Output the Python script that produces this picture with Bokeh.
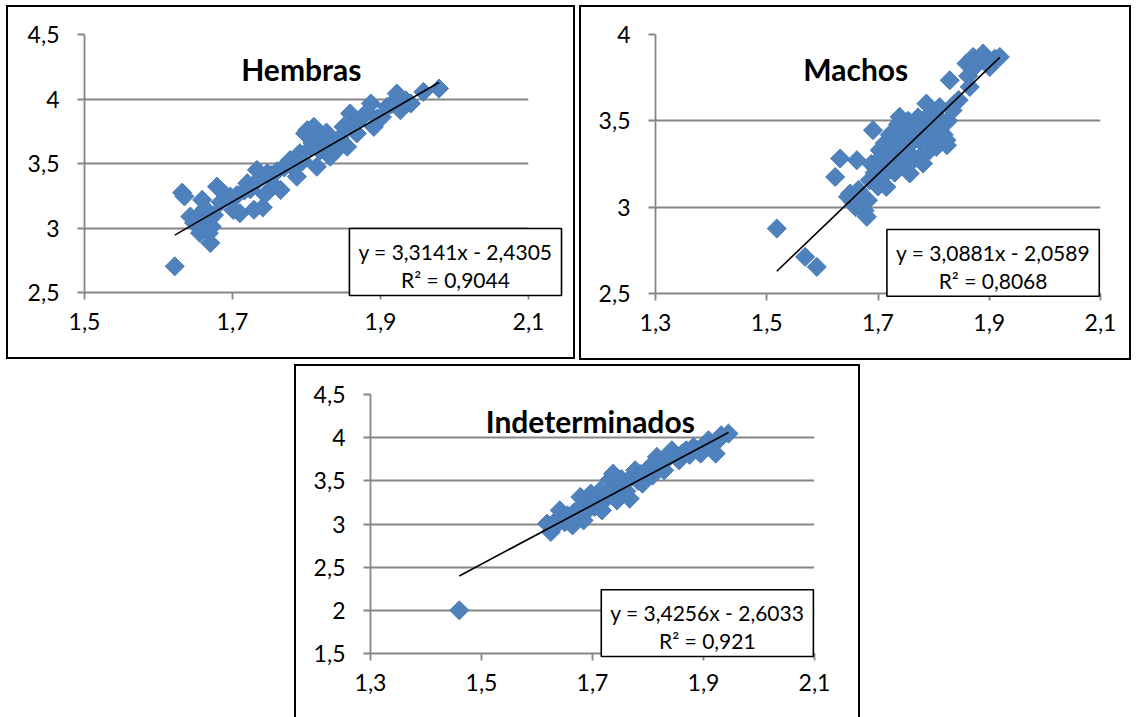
from bokeh.plotting import figure
from bokeh.layouts import column, row
from bokeh.models import Spacer, Label, FixedTicker, Range1d
from bokeh.core.properties import value
from bokeh.embed import file_html
from bokeh.resources import INLINE

# ---------------- data ----------------
# Hembras
hem_x = [1.622, 1.632, 1.635, 1.643, 1.648, 1.653, 1.656, 1.659, 1.661, 1.663,
         1.666, 1.668, 1.670, 1.672, 1.675, 1.679, 1.684, 1.690, 1.697, 1.701,
         1.706, 1.710, 1.716, 1.720, 1.724, 1.729, 1.733, 1.736, 1.741, 1.744,
         1.747, 1.752, 1.756, 1.760, 1.765, 1.770, 1.774, 1.778, 1.783, 1.787,
         1.791, 1.795, 1.798, 1.801, 1.805, 1.808, 1.810, 1.814, 1.818, 1.820,
         1.823, 1.827, 1.832, 1.836, 1.840, 1.845, 1.850, 1.855, 1.859, 1.863,
         1.868, 1.874, 1.882, 1.887, 1.891, 1.896, 1.902, 1.909, 1.915, 1.922,
         1.927, 1.934, 1.941, 1.958, 1.979]
hem_y = [2.703, 3.274, 3.245, 3.089, 3.040, 3.090, 2.961, 3.218, 3.012, 3.150,
         3.070, 2.960, 2.884, 3.010, 3.100, 3.321, 3.200, 3.260, 3.244, 3.140,
         3.255, 3.115, 3.290, 3.347, 3.300, 3.141, 3.450, 3.380, 3.160, 3.260,
         3.424, 3.410, 3.330, 3.440, 3.295, 3.470, 3.500, 3.527, 3.460, 3.398,
         3.580, 3.520, 3.733, 3.759, 3.620, 3.660, 3.784, 3.475, 3.600, 3.700,
         3.681, 3.740, 3.553, 3.660, 3.600, 3.700, 3.784, 3.630, 3.888, 3.800,
         3.733, 3.850, 3.900, 3.965, 3.784, 3.850, 3.860, 3.939, 3.960, 4.042,
         3.913, 3.990, 3.965, 4.055, 4.081]

# Machos
mac_x = [1.518, 1.569, 1.590, 1.623, 1.632, 1.646, 1.650, 1.655, 1.660, 1.662,
         1.665, 1.668, 1.672, 1.676, 1.680, 1.682, 1.685, 1.688, 1.691, 1.694,
         1.697, 1.700, 1.703, 1.706, 1.709, 1.712, 1.715, 1.718, 1.721, 1.724,
         1.727, 1.730, 1.733, 1.736, 1.739, 1.742, 1.745, 1.748, 1.751, 1.754,
         1.757, 1.760, 1.763, 1.766, 1.769, 1.772, 1.775, 1.778, 1.781, 1.784,
         1.787, 1.790, 1.793, 1.796, 1.799, 1.802, 1.805, 1.808, 1.811, 1.814,
         1.818, 1.823, 1.826, 1.829, 1.834, 1.838, 1.845, 1.859, 1.862, 1.865,
         1.868, 1.871, 1.876, 1.882, 1.889, 1.895, 1.901, 1.910, 1.919, 1.824]
mac_y = [2.876, 2.712, 2.654, 3.175, 3.282, 3.060, 3.079, 3.030, 3.000, 3.272,
         3.100, 3.001, 3.050, 2.980, 2.944, 3.040, 3.156, 3.250, 3.446, 3.200,
         3.233, 3.120, 3.330, 3.290, 3.180, 3.370, 3.117, 3.250, 3.420, 3.300,
         3.388, 3.200, 3.233, 3.480, 3.523, 3.350, 3.260, 3.420, 3.311, 3.500,
         3.195, 3.465, 3.380, 3.280, 3.440, 3.520, 3.388, 3.300, 3.253, 3.470,
         3.600, 3.400, 3.330, 3.550, 3.503, 3.450, 3.349, 3.520, 3.580, 3.470,
         3.420, 3.388, 3.500, 3.735, 3.560, 3.600, 3.620, 3.832, 3.760, 3.696,
         3.850, 3.870, 3.820, 3.860, 3.890, 3.850, 3.812, 3.860, 3.870, 3.359]

# Indeterminados
ind_x = [1.460, 1.618, 1.625, 1.630, 1.636, 1.641, 1.645, 1.650, 1.655, 1.658,
         1.664, 1.668, 1.672, 1.678, 1.681, 1.684, 1.690, 1.697, 1.700, 1.704,
         1.709, 1.713, 1.717, 1.721, 1.726, 1.730, 1.734, 1.737, 1.740, 1.744,
         1.748, 1.752, 1.757, 1.761, 1.767, 1.771, 1.777, 1.782, 1.786, 1.790,
         1.795, 1.800, 1.803, 1.808, 1.812, 1.816, 1.821, 1.825, 1.829, 1.836,
         1.843, 1.850, 1.856, 1.862, 1.869, 1.875, 1.882, 1.888, 1.895, 1.902,
         1.909, 1.915, 1.922, 1.928, 1.932, 1.945]
ind_y = [2.000, 3.004, 2.907, 2.960, 3.050, 3.158, 3.090, 3.020, 3.100, 3.042,
         2.984, 3.140, 3.080, 3.313, 3.200, 3.042, 3.150, 3.352, 3.250, 3.197,
         3.300, 3.380, 3.158, 3.270, 3.350, 3.506, 3.400, 3.583, 3.300, 3.274,
         3.450, 3.520, 3.468, 3.380, 3.294, 3.550, 3.622, 3.500, 3.580, 3.468,
         3.600, 3.640, 3.661, 3.560, 3.700, 3.777, 3.700, 3.740, 3.622, 3.760,
         3.854, 3.780, 3.738, 3.820, 3.854, 3.800, 3.893, 3.860, 3.815, 3.920,
         3.970, 3.900, 3.815, 3.980, 4.028, 4.047]

titles = ["Hembras", "Machos", "Indeterminados"]
slopes = [3.3141, 3.0881, 3.4256]
intercepts = [-2.4305, -2.0589, -2.6033]
eq_texts = ["y = 3,3141x - 2,4305", "y = 3,0881x - 2,0589", "y = 3,4256x - 2,6033"]
r2_texts = ["R\u00b2 = 0,9044", "R\u00b2 = 0,8068", "R\u00b2 = 0,921"]

x_ticks_hem = [1.5, 1.7, 1.9, 2.1]
x_labels_hem = ["1,5", "1,7", "1,9", "2,1"]
x_ticks_other = [1.3, 1.5, 1.7, 1.9, 2.1]
x_labels_other = ["1,3", "1,5", "1,7", "1,9", "2,1"]
y_ticks_hem = [2.5, 3.0, 3.5, 4.0, 4.5]
y_labels_hem = ["2,5", "3", "3,5", "4", "4,5"]
y_ticks_mac = [2.5, 3.0, 3.5, 4.0]
y_labels_mac = ["2,5", "3", "3,5", "4"]
y_ticks_ind = [1.5, 2.0, 2.5, 3.0, 3.5, 4.0, 4.5]
y_labels_ind = ["1,5", "2", "2,5", "3", "3,5", "4", "4,5"]

# ---------------- style ----------------
GRID = "#868686"
BLUE = "#4F81BD"
EDGE = "#4A7EBB"
FONT = "Lato"


def panel(w, h, mb, xr, yr, xt, xl, yt, yl, xs, ys, k, shadow,
          title_xy, box, eq_y):
    p = figure(width=w, height=h, x_range=Range1d(*xr), y_range=Range1d(*yr),
               output_backend="svg", toolbar_location=None,
               min_border_left=mb[0], min_border_right=mb[1],
               min_border_top=mb[2], min_border_bottom=mb[3])
    p.styles = {"box-shadow": shadow}
    p.border_fill_color = None
    p.background_fill_color = "white"
    p.outline_line_color = None
    p.xgrid.visible = False
    p.ygrid.ticker = FixedTicker(ticks=yt)
    p.ygrid.grid_line_color = GRID
    p.ygrid.grid_line_width = 1.8
    for ax, ticks, labels in ((p.xaxis[0], xt, xl), (p.yaxis[0], yt, yl)):
        ax.ticker = FixedTicker(ticks=ticks)
        ax.major_label_overrides = dict(zip(ticks, labels))
        ax.axis_line_color = GRID
        ax.axis_line_width = 1.8
        ax.major_tick_line_color = GRID
        ax.major_tick_line_width = 1.8
        ax.major_tick_out = 7
        ax.major_tick_in = 0
        ax.minor_tick_line_color = None
        ax.major_label_text_font = FONT
        ax.major_label_text_font_size = "23px"
        ax.major_label_text_color = "black"
    p.xaxis.major_label_standoff = 13
    p.yaxis.major_label_standoff = 18

    p.scatter(xs, ys, marker="square", angle=0.785398, size=13.5,
              fill_color=BLUE, line_color=EDGE, line_width=1)
    x0, x1 = min(xs), max(xs)
    p.line([x0, x1], [slopes[k] * x0 + intercepts[k], slopes[k] * x1 + intercepts[k]],
           line_color="black", line_width=1.6)

    p.add_layout(Label(x=title_xy[0], y=title_xy[1], text=titles[k], text_font=FONT,
                       text_font_style="bold", text_font_size="30px",
                       text_color="black",
                       text_align="center", text_baseline="alphabetic"))
    # equation box (overlay level so it may reach past the plot area)
    p.quad(left=[box[0]], right=[box[1]], bottom=[box[2]], top=[box[3]],
           fill_color="white", line_color="black", line_width=1.6, level="overlay")
    cx = (box[0] + box[1]) / 2
    p.text(x=[cx, cx], y=list(eq_y), text=[eq_texts[k], r2_texts[k]],
           text_font=value(FONT), text_font_size="21px", text_color="black",
           text_align="center", text_baseline="alphabetic", level="overlay")
    return p


ALL4 = "inset 0 0 0 2px black"
TOP3 = "inset 2px 2px 0 0 black, inset -2px 0 0 0 black"

p1 = panel(569, 354, (78, 47, 29, 66), (1.5, 2.1), (2.5, 4.5),
           x_ticks_hem, x_labels_hem, y_ticks_hem, y_labels_hem,
           hem_x, hem_y, 0, ALL4,
           (1.793, 4.23), (1.858, 2.1446, 2.477, 2.9965), (2.815, 2.599))
p2 = panel(552, 355, (76, 31, 29, 67), (1.3, 2.1), (2.5, 4.0),
           x_ticks_other, x_labels_other, y_ticks_mac, y_labels_mac,
           mac_x, mac_y, 1, ALL4,
           (1.660, 3.803), (1.716, 2.0978, 2.4844, 2.8706), (2.738, 2.576))
p3 = panel(566, 353, (76, 46, 30, 64), (1.3, 2.1), (1.5, 4.5),
           x_ticks_other, x_labels_other, y_ticks_ind, y_labels_ind,
           ind_x, ind_y, 2, TOP3,
           (1.696, 4.19), (1.7158, 2.098, 1.465, 2.2387), (1.973, 1.648))

layout = column(
    Spacer(width=1136, height=5),
    row(Spacer(width=6, height=355), p1, Spacer(width=4, height=355), p2),
    Spacer(width=10, height=4),
    row(Spacer(width=294, height=353), p3),
)

open("out.html", "w").write(file_html(layout, INLINE))
